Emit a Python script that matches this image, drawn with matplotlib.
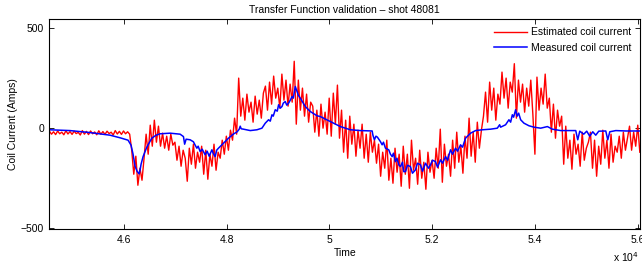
import numpy as np
import matplotlib
matplotlib.use("Agg")
import matplotlib.pyplot as plt
from matplotlib.ticker import FuncFormatter

plt.rcParams['font.family'] = ['Liberation Sans', 'DejaVu Sans']

# ---------------- data ----------------
t_start = 44555
t_step = 40

estimated_current = (
    [-15, -30, -18, -32, -14, -28, -20, -33, -13, -29,
     -17, -31, -15, -27, -21, -34, -12, -30, -16, -32,
     -14, -28, -19, -33, -13, -30, -17, -31, -15, -27,
     -20, -34, -12, -29, -16, -31, -14, -28, -18, -30]
    + [-110, -230, -140, -285, -200, -260]
    + [-150, -30, -130, 15, -90, 40, -70, 10]
    + [-90, -25, -100, -40, -110, -30, -85]
    + [-70, -160, -90, -190, -110, -150, -265, -100, -180, -80, -200, -120]
    + [-170, -90, -230, -110, -255, -130, -190, -80, -210, -120]
    + [-150, -60, -130, -40, -110, -10]
    + [-60, 50, -30, 250]
    + [60, 150, 40, 170, 80, 130, 30, 160, 70, 140, 50, 175]
    + [210, 90, 230, 120, 260, 150, 200, 100, 270, 140, 240, 110, 220, 130]
    + [334, 20]
    + [240, 90, 200, 60, 170, 30, 130]
    + [110, -20, 90, -40, 120, 0, 80, -30]
    + [150, -40, 175, 20, 215, -50]
    + [90, -120, 40, -150, 60, -80, 20, -140, -10, -100]
    + [20, -150, -30, -170, -20, -120, -60, -175]
    + [-80, -240, -120, -200, -60, -260, -150, -275, -100, -220, -130]
    + [-290, -90, -230, -130, -300, -60, -210, -150, -280, -110, -250, -170,
       -305, -120, -220, -160]
    + [-250, -100, -200, -5, -270, -80, -190, -130, -240]
    + [-60, -200, -20, -170, -90, -225, -40, -150]
    + [50, -140, -20, -170, 30, -100, -10]
    + [60, 180, 30, 230, 90, 200, 40, 170]
    + [120, 280, 150, 250, 100, 230]
    + [180, 322, 50, 240, 130]
    + [220, 80, 200, 110, 240, 70]
    + [-130]
    + [255, 90, 200, 120, 270, 100]
    + [150, -20, 120, -50, 90, 10, 60]
    + [-180, 10, -150, -60, -205, -30, -130, -80, -190, -20, -160, -100, -70]
    + [-20, -200, -60, -240, -90]
    + [-180, -10, -150, -60, -200, -30, -170, -90, -120, -40]
    + [-150, -20, -110, -50]
    + [10, -110, -20, -90, 15, -120]
)
estimated_time = t_start + t_step * np.arange(len(estimated_current))

measured_time = [
    44555, 44954, 45344, 45733, 45928, 46084, 46142, 46181, 46220, 46259,
    46298, 46317, 46337, 46376, 46448, 46545, 46629, 46707, 46902, 47096,
    47161, 47184, 47213, 47291, 47355, 47389, 47422, 47447, 47486, 47525,
    47583, 47622, 47661, 47714, 47739, 47778, 47807, 47842, 47940, 48037,
    48128, 48206, 48245, 48265, 48284, 48329, 48460, 48590, 48687, 48752,
    48816, 48849, 48882, 48907, 48946, 48985, 49011, 49044, 49077, 49102,
    49141, 49170, 49205, 49239, 49272, 49297, 49336, 49369, 49394, 49433,
    49531, 49628, 49758, 49823, 50017, 50212, 50407, 50602, 50830, 50845,
    50874, 50904, 50933, 50991, 51024, 51050, 51089, 51153, 51186, 51219,
    51244, 51283, 51313, 51348, 51381, 51420, 51445, 51478, 51517, 51575,
    51614, 51673, 51712, 51770, 51809, 51868, 51926, 51965, 52004, 52062,
    52101, 52160, 52199, 52257, 52296, 52354, 52393, 52452, 52491, 52549,
    52588, 52646, 52744, 52841, 52972, 53133, 53264, 53309, 53328, 53425,
    53490, 53523, 53556, 53581, 53620, 53649, 53679, 53718, 53782, 53879,
    53977, 54107, 54238, 54335, 54497, 54789, 54828, 54867, 54944, 55003,
    55061, 55120, 55178, 55237, 55373, 55412, 55451, 55568, 55762, 56040,
]
measured_current = [
    -8, -12, -22, -35, -48, -60, -85, -130, -190, -215,
    -228, -210, -180, -142, -95, -50, -35, -28, -25, -30,
    -42, -80, -55, -58, -68, -85, -100, -90, -117, -105,
    -133, -115, -140, -108, -125, -142, -110, -100, -75, -50,
    -30, -18, -5, 10, -3, -5, -12, -8, 0, 25,
    42, 35, 67, 60, 92, 85, 117, 100, 108, 125,
    133, 115, 125, 140, 158, 150, 208, 183, 165, 150,
    108, 83, 62, 58, 33, 8, -8, -12, -14, -35,
    -58, -40, -45, -67, -83, -70, -100, -108, -130, -142,
    -125, -167, -150, -183, -192, -170, -217, -217, -185, -192,
    -225, -208, -175, -183, -215, -175, -200, -183, -160, -167,
    -195, -158, -175, -142, -160, -108, -130, -100, -115, -83,
    -95, -50, -25, -12, -8, -5, 0, 17, 5, 17,
    42, 30, 67, 55, 92, 60, 75, 42, 25, 12,
    5, 0, 8, -5, -12, -12, -58, -15, -30, -15,
    -40, -18, -35, -15, -14, -58, -18, -12, -14, -14,
]

x_ticks = [46000, 48000, 50000, 52000, 54000, 56000]
y_ticks = [-500, 0, 500]

# ---------------- figure ----------------
fig = plt.figure(figsize=(6.42, 2.72), dpi=100)
ax = fig.add_axes([0.077, 0.157, 0.920, 0.773])

ax.plot(estimated_time, estimated_current, color='#ff0000', lw=1.0,
        label='Estimated coil current')
ax.plot(measured_time, measured_current, color='#0000ff', lw=1.1,
        label='Measured coil current')

ax.set_xlim(44555, 56040)
ax.set_ylim(-505, 545)
ax.set_xticks(x_ticks)
ax.set_yticks(y_ticks)
ax.xaxis.set_major_formatter(FuncFormatter(lambda v, p: f"{v/1e4:g}"))
ax.tick_params(direction='in', length=3.5, width=0.6, top=True, right=True,
               labelsize=7.5, pad=4)
for s in ax.spines.values():
    s.set_linewidth(0.8)

ax.set_title('Transfer Function validation \u2013 shot 48081', fontsize=7.5, pad=4)
ax.set_xlabel('Time', fontsize=7.5, labelpad=2)
ax.set_ylabel('Coil Current (Amps)', fontsize=7.5, labelpad=2)
fig.text(0.995, 0.03, r'x 10$^{4}$', ha='right', va='bottom', fontsize=7.5)

leg = ax.legend(loc='upper right', frameon=False, fontsize=7.5,
                handlelength=3.2, handletextpad=0.4, labelspacing=0.55,
                borderaxespad=0.4)

fig.savefig('out.png', dpi=100)
